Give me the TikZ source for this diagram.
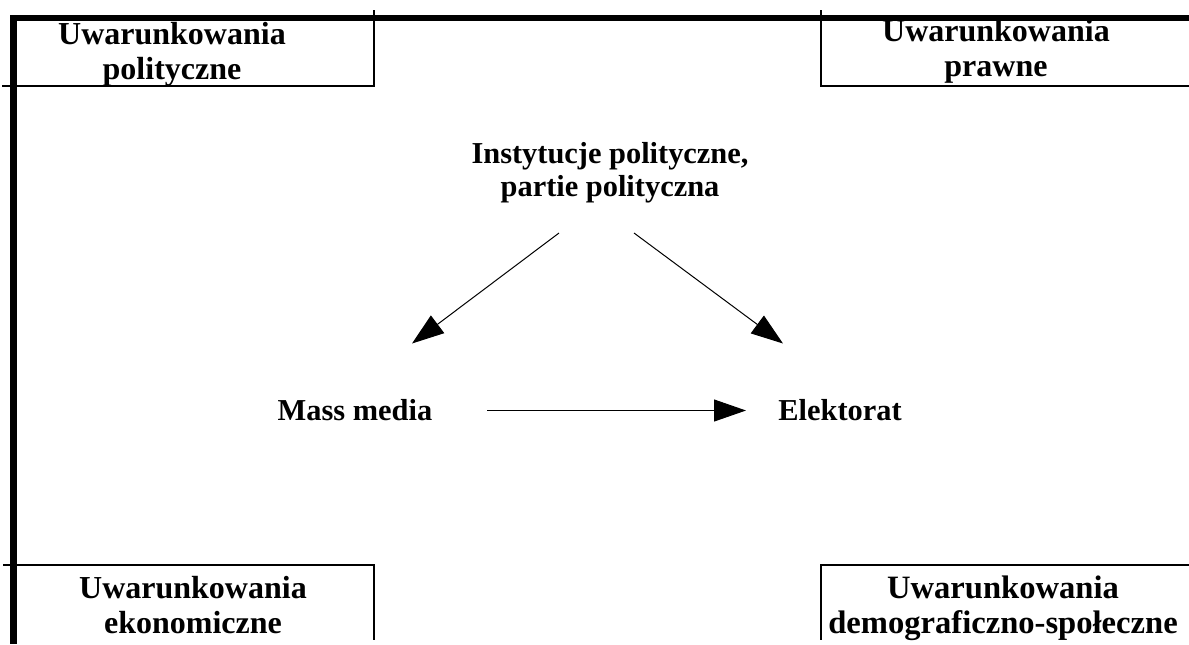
\documentclass[tikz,border=0pt]{standalone}
\usepackage{fontspec}
\setmainfont{Liberation Serif}
\usetikzlibrary{arrows.meta,calc}

\begin{document}
\begin{tikzpicture}[x=0.5pt,y=-0.5pt,
  txt/.style={font=\fontsize{15.2}{16.6}\selectfont\bfseries, align=center, inner sep=0pt},
  corner/.style={txt, font=\fontsize{16}{17.5}\selectfont\bfseries},
  frame/.style={line width=3.3pt},
  edge/.style={line width=0.6pt},
  arr/.style={line width=0.5pt, -{Triangle[length=16pt,width=11pt]}}]
        \useasboundingbox (0,0) rectangle (1189,644);

        % frame
        \draw[frame] (10,18) -- (1189,18);
        \draw[frame] (13.5,15) -- (13.5,644);

        % corner boxes
        \draw[edge] (374,10) -- (374,86) -- (2,86);
        \draw[edge] (821,10) -- (821,86) -- (1189,86);
        \draw[edge] (3,565) -- (374,565) -- (374,640);
        \draw[edge] (1189,565) -- (821,565) -- (821,640);

        \node[corner] (polit) at (172,54) {Uwarunkowania\\polityczne};
        \node[corner] (prawo) at (996,51) {Uwarunkowania\\prawne};
        \node[corner] (ekon) at (193,605) {Uwarunkowania\\ekonomiczne};
        \node[corner, font=\fontsize{16.3}{17.5}\selectfont\bfseries] (demo) at (1003,608) {Uwarunkowania\\demograficzno-społeczne};

        % triangle
        \node[txt] (inst) at (610,173) {Instytucje polityczne,\\partie polityczna};
        \node[txt] (media) at (355,410.5) {Mass media};
        \node[txt] (elekt) at (840,410.5) {Elektorat};

        \draw[arr] ($(inst)+(-51,60)$) -- ($(media)+(57,-67)$);
        \draw[arr] ($(inst)+(24,60)$) -- ($(elekt)+(-57,-67)$);
        \draw[arr] ($(media)+(132,0)$) -- ($(elekt)+(-94,0)$);
        % \draw[arr] (elekt) -- (inst);
\end{tikzpicture}
\end{document}
